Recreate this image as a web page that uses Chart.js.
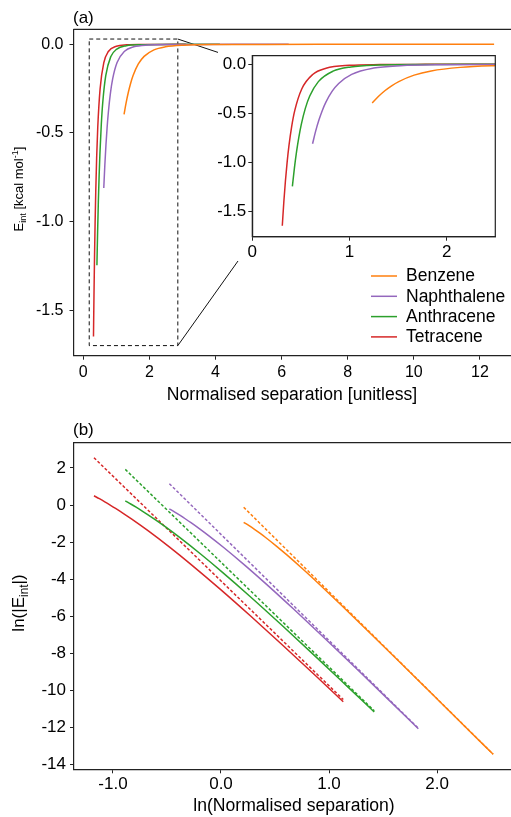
<!DOCTYPE html>
<html>
<head>
<meta charset="utf-8">
<script src="https://cdn.jsdelivr.net/npm/chart.js@4"></script>
<style>
  html, body { margin: 0; padding: 0; background: #fff; overflow: hidden; }
  canvas { position: absolute; }
  #chartA { left: 0; top: 0; }
  #inset { left: 218px; top: 49px; background: #fff; }
  #chartB { left: 0; top: 410px; }
</style>
</head>
<body>
<canvas id="chartA" width="511" height="410"></canvas>
<canvas id="inset" width="287" height="212"></canvas>
<canvas id="chartB" width="511" height="407"></canvas>
<script>
// molecules: ln(separation) and ln(|E_int|)
const molecules = ["Benzene", "Naphthalene", "Anthracene", "Tetracene"];

const benzeneLnSep = [0.21, 0.26, 0.31, 0.36, 0.41, 0.51, 0.61, 0.76, 0.91, 1.11, 1.41, 1.71, 2.01, 2.31, 2.52];
const benzeneLnE   = [-0.930, -1.113, -1.309, -1.518, -1.737, -2.201, -2.692, -3.467, -4.273, -5.378, -7.072, -8.787, -10.511, -12.239, -13.440];

const naphthaleneLnSep = [-0.478, -0.428, -0.378, -0.328, -0.278, -0.198, -0.118, 0.022, 0.222, 0.422, 0.672, 0.972, 1.272, 1.572, 1.827];
const naphthaleneLnE   = [-0.210, -0.382, -0.564, -0.754, -0.952, -1.285, -1.634, -2.277, -3.254, -4.280, -5.610, -7.251, -8.924, -10.614, -12.059];

const anthraceneLnSep = [-0.886, -0.836, -0.786, -0.736, -0.686, -0.606, -0.526, -0.386, -0.186, 0.014, 0.264, 0.564, 0.864, 1.164, 1.419];
const anthraceneLnE   = [0.220, 0.055, -0.118, -0.298, -0.486, -0.799, -1.128, -1.734, -2.657, -3.632, -4.904, -6.484, -8.105, -9.752, -11.160];

const tetraceneLnSep = [-1.176, -1.126, -1.076, -1.026, -0.976, -0.906, -0.826, -0.676, -0.476, -0.276, 0.000, 0.274, 0.574, 0.874, 1.132];
const tetraceneLnE   = [0.500, 0.340, 0.173, -0.001, -0.182, -0.445, -0.759, -1.381, -2.269, -3.210, -4.574, -5.985, -7.574, -9.196, -10.609];

// power-law fits (dashed, panel b), end points
const benzeneFitLnSep = [0.21, 2.52],        benzeneFitLnE = [-0.12, -13.44];
const naphthaleneFitLnSep = [-0.478, 1.827], naphthaleneFitLnE = [1.15, -12.035];
const anthraceneFitLnSep = [-0.886, 1.419],  anthraceneFitLnE = [1.92, -11.098];
const tetraceneFitLnSep = [-1.176, 1.132],   tetraceneFitLnE = [2.55, -10.49];

// zoom box and connector lines in panel (a) data units
const zoomBoxSep = [0.18, 2.86, 2.86, 0.18, 0.18];
const zoomBoxE   = [0.03, 0.03, -1.70, -1.70, 0.03];
const connTopSep = [2.86, 4.44],    connTopE = [0.03, -0.068];
const connBotSep = [2.86, 4.87],    connBotE = [-1.70, -1.173];

// tick labels
const aXTicks = [0, 2, 4, 6, 8, 10, 12];
const aYTicks = [-1.5, -1.0, -0.5, 0.0];
const insetXTicks = [0, 1, 2];
const insetYTicks = [-1.5, -1.0, -0.5, 0.0];
const bXTicks = [-1.0, 0.0, 1.0, 2.0];
const bYTicks = [2, 0, -2, -4, -6, -8, -10, -12, -14];

const colours = ["#ff7f0e", "#9467bd", "#2ca02c", "#d62728"];
const FONT = "'Liberation Sans', Arial, sans-serif";
const AXIS = "#222";

const series = [
  [benzeneLnSep, benzeneLnE, benzeneFitLnSep, benzeneFitLnE],
  [naphthaleneLnSep, naphthaleneLnE, naphthaleneFitLnSep, naphthaleneFitLnE],
  [anthraceneLnSep, anthraceneLnE, anthraceneFitLnSep, anthraceneFitLnE],
  [tetraceneLnSep, tetraceneLnE, tetraceneFitLnSep, tetraceneFitLnE],
];

const pts = (xs, ys) => xs.map((x, i) => ({ x: x, y: ys[i] }));
const linearPts = (lnX, lnY) => lnX.map((t, i) => ({ x: Math.exp(t), y: -Math.exp(lnY[i]) }));

const curve = (data, i, label) => ({
  label: label, data: data, borderColor: colours[i], borderWidth: 1.5,
  pointRadius: 0, fill: false, cubicInterpolationMode: "monotone"
});
const blackLine = (data, dash) => ({
  data: data, borderColor: "#111", borderWidth: 1, borderDash: dash || [],
  pointRadius: 0, fill: false, tension: 0
});

// draws text with sub/superscript pieces
function richText(ctx, parts, x, y, size, rotated) {
  ctx.save();
  ctx.translate(x, y);
  if (rotated) ctx.rotate(-Math.PI / 2);
  const small = size * 0.7;
  let total = 0;
  const widths = parts.map(p => {
    ctx.font = (p.sub || p.sup ? small : size) + "px " + FONT;
    const w = ctx.measureText(p.t).width;
    total += w;
    return w;
  });
  let cx = -total / 2;
  ctx.fillStyle = "#000";
  ctx.textAlign = "left";
  ctx.textBaseline = "alphabetic";
  parts.forEach((p, i) => {
    ctx.font = (p.sub || p.sup ? small : size) + "px " + FONT;
    const dy = p.sub ? size * 0.22 : p.sup ? -size * 0.38 : 0;
    ctx.fillText(p.t, cx, size * 0.36 + dy);
    cx += widths[i];
  });
  ctx.restore();
}

function scaleOpts(min, max, ticks, fmt, fontSize, size, pad) {
  return {
    type: "linear", min: min, max: max,
    afterBuildTicks: s => { s.ticks = ticks.map(v => ({ value: v })); },
    afterFit: s => {
      if (s.isHorizontal()) s.height = size; else s.width = size;
      s.paddingTop = 0; s.paddingBottom = 0; s.paddingLeft = 0; s.paddingRight = 0;
    },
    ticks: { callback: fmt, color: "#000", font: { family: FONT, size: fontSize }, padding: pad, maxRotation: 0, autoSkip: false },
    grid: { display: true, drawOnChartArea: false, drawTicks: true, tickLength: 4, tickColor: AXIS, tickWidth: 1 },
    border: { display: true, color: AXIS, width: 1.2 },
    title: { display: false }
  };
}

const framePlugin = (full) => ({
  id: "frame",
  afterDraw(chart) {
    const { ctx, chartArea: a } = chart;
    ctx.save();
    ctx.strokeStyle = AXIS;
    ctx.lineWidth = 1.2;
    ctx.beginPath();
    if (full) {
      ctx.rect(a.left, a.top, a.right - a.left, a.bottom - a.top);
    } else {
      ctx.moveTo(a.left, a.top);
      ctx.lineTo(a.right, a.top);
    }
    ctx.stroke();
    ctx.restore();
  }
});

const common = {
  responsive: false, animation: false, events: [],
  plugins: { legend: { display: false }, tooltip: { enabled: false }, title: { display: false } }
};

// ---------- panel (a) ----------
const aDatasets = series.map((s, i) => curve(linearPts(s[0], s[1]), i, molecules[i]));
aDatasets.push(blackLine(pts(zoomBoxSep, zoomBoxE), [4, 3]));
aDatasets.push(blackLine(pts(connTopSep, connTopE)));
aDatasets.push(blackLine(pts(connBotSep, connBotE)));

const aLabels = {
  id: "aLabels",
  afterDraw(chart) {
    const ctx = chart.ctx;
    ctx.save();
    ctx.fillStyle = "#000";
    ctx.font = "17px " + FONT;
    ctx.textBaseline = "middle";
    ctx.textAlign = "left";
    ctx.fillText("(a)", 73, 18.5);
    ctx.font = "17.6px " + FONT;
    ctx.textAlign = "center";
    ctx.fillText("Normalised separation [unitless]", 292, 395);
    ctx.restore();
    richText(ctx, [{ t: "E" }, { t: "int", sub: true }, { t: " [kcal mol" }, { t: "-1", sup: true }, { t: "]" }], 18, 189, 13, true);
    // legend
    ctx.save();
    ctx.font = "17.5px " + FONT;
    ctx.textBaseline = "middle";
    ctx.textAlign = "left";
    molecules.forEach((m, i) => {
      const y = 276 + i * 20.3;
      ctx.strokeStyle = colours[i];
      ctx.lineWidth = 1.5;
      ctx.beginPath();
      ctx.moveTo(371, y);
      ctx.lineTo(397, y);
      ctx.stroke();
      ctx.fillStyle = "#000";
      ctx.fillText(m, 406, y + 0.5);
    });
    ctx.restore();
  }
};

new Chart(document.getElementById("chartA"), {
  type: "line",
  data: { datasets: aDatasets },
  options: Object.assign({}, common, {
    layout: { padding: { top: 29.3, right: 0, left: 0, bottom: 0 } },
    scales: {
      x: scaleOpts(-0.296, 12.94, aXTicks, v => String(v), 16, 54.3, 3),
      y: scaleOpts(-1.757, 0.085, aYTicks, v => v.toFixed(1), 16, 73.5, 6)
    }
  }),
  plugins: [framePlugin(false), aLabels]
});

// ---------- inset ----------
new Chart(document.getElementById("inset"), {
  type: "line",
  data: { datasets: series.map((s, i) => curve(linearPts(s[0], s[1]), i, molecules[i])) },
  options: Object.assign({}, common, {
    layout: { padding: { top: 6.7, right: 9.7, left: 0, bottom: 0 } },
    scales: {
      x: scaleOpts(0, 2.5, insetXTicks, v => String(v), 17, 24.3, 1),
      y: scaleOpts(-1.76, 0.088, insetYTicks, v => v.toFixed(1), 17, 34.3, 2)
    }
  }),
  plugins: [framePlugin(true)]
});

// ---------- panel (b) ----------
const bDatasets = [];
series.forEach((s, i) => {
  bDatasets.push(curve(pts(s[0], s[1]), i, molecules[i]));
  bDatasets.push(Object.assign(curve(pts(s[2], s[3]), i, molecules[i] + " fit"), { borderDash: [3, 2], tension: 0 }));
});

const bLabels = {
  id: "bLabels",
  afterDraw(chart) {
    const ctx = chart.ctx;
    ctx.save();
    ctx.fillStyle = "#000";
    ctx.font = "17px " + FONT;
    ctx.textBaseline = "middle";
    ctx.textAlign = "left";
    ctx.fillText("(b)", 73, 20);
    ctx.font = "17.6px " + FONT;
    ctx.textAlign = "center";
    ctx.fillText("ln(Normalised separation)", 294, 396);
    ctx.restore();
    richText(ctx, [{ t: "ln(|E" }, { t: "int", sub: true }, { t: "|)" }], 18, 193, 17, true);
  }
};

new Chart(document.getElementById("chartB"), {
  type: "line",
  data: { datasets: bDatasets },
  options: Object.assign({}, common, {
    layout: { padding: { top: 32.7, right: 0, left: 0, bottom: 0 } },
    scales: {
      x: scaleOpts(-1.361, 2.685, bXTicks, v => v.toFixed(1), 17, 47.7, 1),
      y: scaleOpts(-14.25, 3.36, bYTicks, v => String(v), 17, 74, 4)
    }
  }),
  plugins: [framePlugin(false), bLabels]
});
</script>
</body>
</html>
